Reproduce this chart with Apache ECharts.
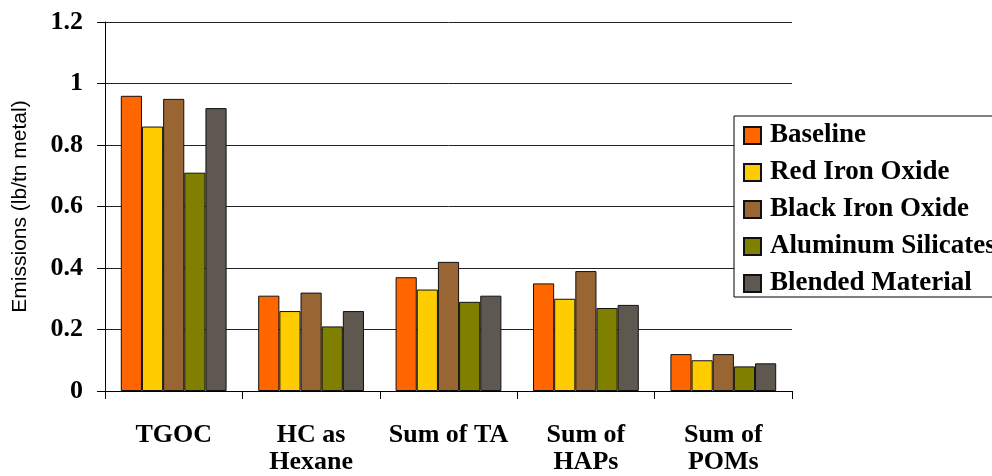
<!DOCTYPE html>
<html>
<head>
<meta charset="utf-8">
<script src="https://cdn.jsdelivr.net/npm/echarts@6/dist/echarts.min.js"></script>
<style>html,body{margin:0;padding:0;background:#fff;}#c{width:992px;height:476px;}</style>
</head>
<body>
<div id="c"></div>
<script>
const categories = ['TGOC', 'HC as\nHexane', 'Sum of TA', 'Sum of\nHAPs', 'Sum of\nPOMs'];
const seriesNames = ['Baseline', 'Red Iron Oxide', 'Black Iron Oxide', 'Aluminum Silicates', 'Blended Material'];
const baseline = [0.96, 0.31, 0.37, 0.35, 0.12];
const redIronOxide = [0.86, 0.26, 0.33, 0.30, 0.10];
const blackIronOxide = [0.95, 0.32, 0.42, 0.39, 0.12];
const aluminumSilicates = [0.71, 0.21, 0.29, 0.27, 0.08];
const blendedMaterial = [0.92, 0.26, 0.31, 0.28, 0.09];
const colors = ['#FF6600', '#FFCC00', '#996633', '#808000', '#5F5850'];
const allData = [baseline, redIronOxide, blackIronOxide, aluminumSilicates, blendedMaterial];

const serif = "'Liberation Serif', 'Times New Roman', serif";
const chart = echarts.init(document.getElementById('c'));
chart.setOption({
  animation: false,
  backgroundColor: '#fff',
  grid: { left: 105, right: 200, top: 22, bottom: 84, containLabel: false },
  legend: {
    orient: 'vertical',
    left: 734, top: 116,
    icon: 'rect',
    itemWidth: 17, itemHeight: 17,
    itemGap: 10,
    padding: [6, 40, 0, 9],
    borderColor: '#000', borderWidth: 1,
    backgroundColor: '#fff',
    textStyle: { fontFamily: serif, fontWeight: 'bold', fontSize: 27, color: '#000', padding: [0, 0, 0, 4] },
    data: seriesNames
  },
  xAxis: {
    type: 'category',
    data: categories,
    axisLine: { lineStyle: { color: '#000', width: 1 } },
    axisTick: { show: true, length: 8, lineStyle: { color: '#000' } },
    axisLabel: { fontFamily: serif, fontWeight: 'bold', fontSize: 26, color: '#000', margin: 31, lineHeight: 27, interval: 0 }
  },
  yAxis: {
    type: 'value',
    min: 0, max: 1.2, interval: 0.2,
    name: 'Emissions (lb/tn metal)',
    nameLocation: 'middle',
    nameGap: 74,
    nameTextStyle: { fontFamily: "'Liberation Sans', Arial, sans-serif", fontSize: 21, color: '#000' },
    axisLine: { show: true, lineStyle: { color: '#000', width: 1 } },
    axisTick: { show: true, length: 8, lineStyle: { color: '#000' } },
    axisLabel: { fontFamily: serif, fontWeight: 'bold', fontSize: 26, color: '#000', margin: 22 },
    splitLine: { show: true, lineStyle: { color: '#222', width: 1 } }
  },
  series: seriesNames.map((n, i) => ({
    name: n,
    type: 'bar',
    data: allData[i],
    barGap: '0%',
    barCategoryGap: '23%',
    itemStyle: { color: colors[i], borderColor: '#111', borderWidth: 1 }
  }))
});
</script>
</body>
</html>
